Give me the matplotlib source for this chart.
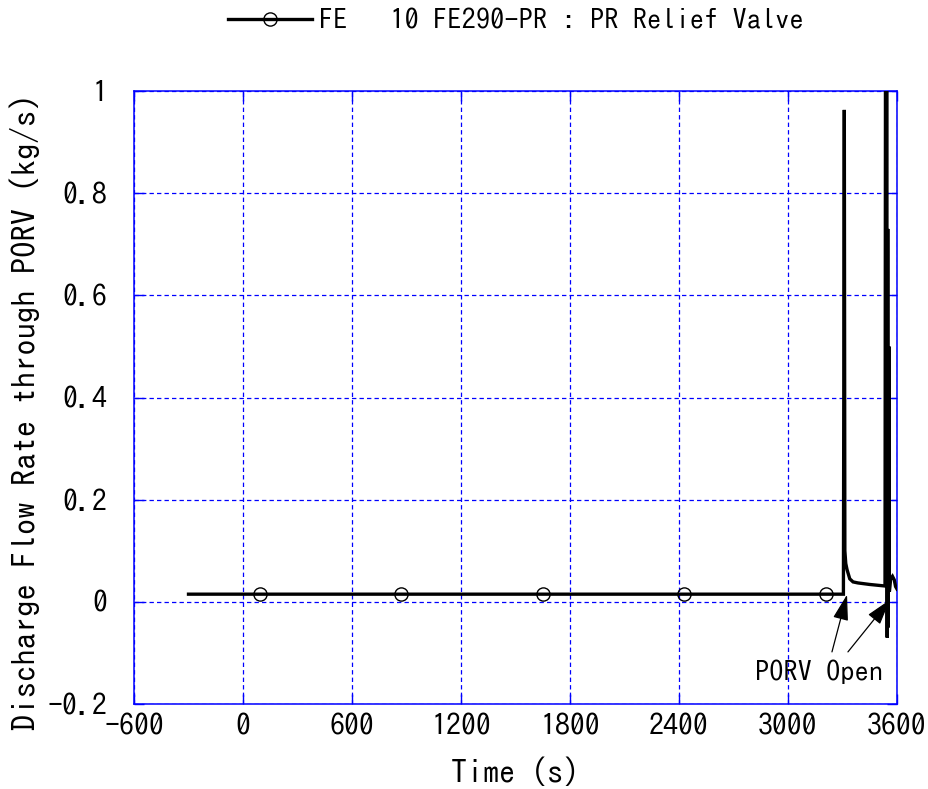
import matplotlib
matplotlib.use("Agg")
import matplotlib.pyplot as plt
from matplotlib.patches import FancyArrowPatch

plt.rcParams['font.family'] = ['IPAGothic', 'DejaVu Sans']
plt.rcParams['axes.unicode_minus'] = False

# ---- data ----
time_s = [-300, 3305, 3310, 3313, 3318, 3325, 3340, 3358, 3385, 3450, 3534,
          3537, 3540, 3543, 3546, 3549, 3552, 3555, 3558, 3561, 3565, 3575,
          3585, 3592, 3600]
flow = [0.015, 0.015, 0.963, 0.10, 0.075, 0.063, 0.045, 0.039, 0.037, 0.034, 0.031,
        1.20, 0.03, 1.15, -0.07, 0.73, -0.05, 0.50, 0.02, 0.03, 0.045, 0.05,
        0.043, 0.03, 0.025]
marker_times = [92, 871, 1650, 2429, 3208]
marker_flow = [0.015, 0.015, 0.015, 0.015, 0.015]

x_ticks = [-600, 0, 600, 1200, 1800, 2400, 3000, 3600]
x_ticklabels = ["-600", "0", "600", "1200", "1800", "2400", "3000", "3600"]
y_ticks = [-0.2, 0.0, 0.2, 0.4, 0.6, 0.8, 1.0]
y_ticklabels = ["-0.2", "0", "0.2", "0.4", "0.6", "0.8", "1"]

series_label = "FE   10 FE290-PR : PR Relief Valve"
annot_text = "PORV Open"
annot_text_pos = (3171, -0.136)
arrow_tails = [(3242, -0.098), (3330, -0.098)]
arrow_heads = [(3325, 0.014), (3561, 0.004)]

# ---- figure ----
fig = plt.figure(figsize=(9.29, 7.89), dpi=100)
ax = fig.add_axes([134/929, 1 - 704/789, (897-134)/929, (704-91)/789])

ax.plot(time_s, flow, color='black', lw=2.4, solid_joinstyle='miter', zorder=3)
ax.plot(marker_times, marker_flow, ls='none', marker='o', ms=9.5, mfc='none',
        mec='black', mew=1.0, zorder=4)
# legend proxy
ax.plot([], [], color='black', lw=2.4, marker='o', ms=9.5, mfc='none',
        mec='black', mew=1.0, label=series_label)

ax.set_xlim(-600, 3600)
ax.set_ylim(-0.2, 1.0)
ax.set_xticks(x_ticks)
ax.set_xticklabels(x_ticklabels)
ax.set_yticks(y_ticks)
ax.set_yticklabels(y_ticklabels)

ax.grid(True, color='blue', lw=0.9, ls=(0, (3.5, 2.5)))
for sp in ax.spines.values():
    sp.set_color('blue')
    sp.set_linewidth(1.1)
ax.tick_params(axis='both', which='both', direction='in', color='blue',
               length=7, width=1, top=True, right=True, labelsize=21.5)
ax.tick_params(axis='y', pad=19)
ax.tick_params(axis='x', pad=7)

ax.set_xlabel("Time (s)", fontsize=23)
ax.xaxis.set_label_coords(0.5, (704 - 772) / 613)
ax.set_ylabel("Discharge Flow Rate through PORV (kg/s)", fontsize=23.5)
ax.yaxis.set_label_coords((25 - 134) / 763, (704 - 412) / 613)
ax.yaxis.label.set_va('center')
ax.xaxis.label.set_va('center')

leg = ax.legend(loc='center', bbox_to_anchor=(0.5, 1 + 71/613), frameon=False,
                fontsize=20.5, handlelength=2.95, handletextpad=0.25,
                borderaxespad=0)

ax.text(annot_text_pos[0], annot_text_pos[1], annot_text, fontsize=20.5,
        ha='center', va='center', zorder=5)
for (tx, ty), (hx, hy) in zip(arrow_tails, arrow_heads):
    arr = FancyArrowPatch((tx, ty), (hx, hy),
                          arrowstyle='-|>,head_length=1.0,head_width=0.3',
                          mutation_scale=16, color='black', lw=0.9,
                          shrinkA=0, shrinkB=0, zorder=5)
    ax.add_patch(arr)

fig.savefig("out.png", dpi=100)
